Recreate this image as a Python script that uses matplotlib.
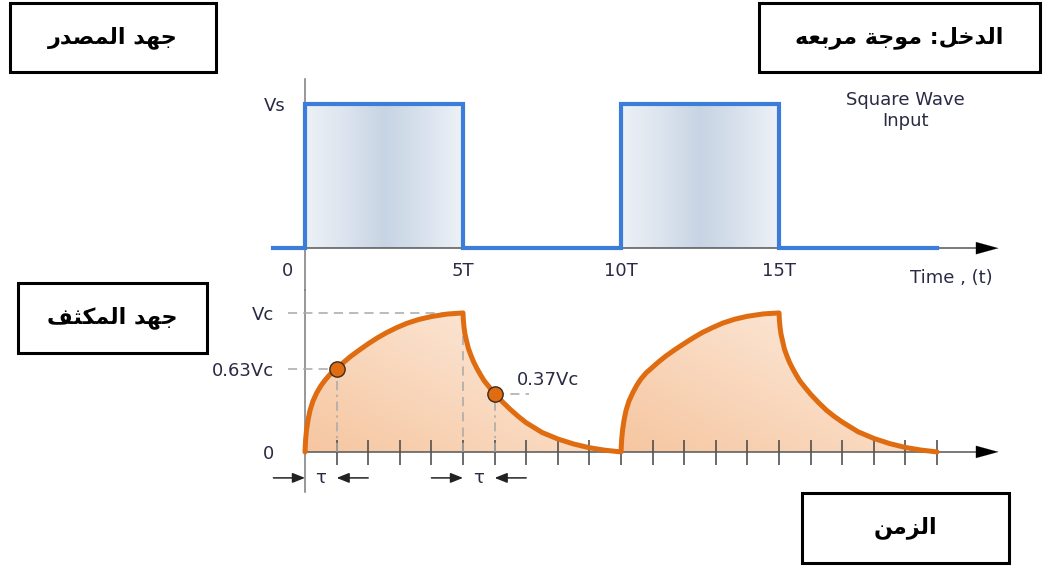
import numpy as np
import matplotlib
matplotlib.use("Agg")
import matplotlib.pyplot as plt
from matplotlib.patches import Rectangle
from matplotlib.colors import LinearSegmentedColormap, to_rgb

W, H = 1043, 567

# square wave input: time in units of T, level as fraction of Vs
sq_t = [-1, 0, 0, 5, 5, 10, 10, 15, 15, 20]
sq_v = [0, 0, 1, 1, 0, 0, 1, 1, 0, 0]
top_tick_pos = [0, 5, 10, 15]
top_tick_lbl = ["0", "5T", "10T", "15T"]

# capacitor voltage (fraction of Vc)
vc_t = [0, 0.02, 0.05, 0.1, 0.16, 0.25, 0.37, 0.5, 0.63, 0.8, 1.0, 1.2, 1.42, 1.7, 2.0, 2.3,
        2.58, 2.9, 3.22, 3.6, 4.0, 4.5, 5.0,
        5.01, 5.03, 5.06, 5.11, 5.17, 5.25, 5.33, 5.43, 5.54, 5.66, 5.8, 6.0, 6.25, 6.5, 6.75,
        7.0, 7.5, 8.0, 8.5, 9.0, 9.5, 10.0,
        10.02, 10.05, 10.1, 10.16, 10.25, 10.37, 10.5, 10.63, 10.8, 11.0, 11.2, 11.42, 11.7, 12.0,
        12.3, 12.58, 12.9, 13.22, 13.6, 14.0, 14.5, 15.0,
        15.01, 15.03, 15.06, 15.11, 15.17, 15.25, 15.33, 15.43, 15.54, 15.66, 15.8, 16.0, 16.25,
        16.5, 16.75, 17.0, 17.5, 18.0, 18.5, 19.0, 19.5, 20.0]
vc_v = [0, 0.09, 0.16, 0.235, 0.30, 0.365, 0.425, 0.475, 0.515, 0.56, 0.60, 0.64, 0.683, 0.73,
        0.778, 0.822, 0.858, 0.894, 0.925, 0.953, 0.974, 0.992, 1.0,
        0.95, 0.90, 0.85, 0.80, 0.745, 0.695, 0.65, 0.605, 0.56, 0.515, 0.475, 0.42, 0.36, 0.305,
        0.255, 0.21, 0.14, 0.093, 0.057, 0.03, 0.012, 0.0,
        0.09, 0.16, 0.235, 0.30, 0.365, 0.425, 0.48, 0.525, 0.57, 0.61, 0.65, 0.69, 0.735, 0.78,
        0.823, 0.86, 0.895, 0.927, 0.955, 0.976, 0.993, 1.0,
        0.95, 0.90, 0.85, 0.80, 0.74, 0.69, 0.645, 0.60, 0.555, 0.51, 0.47, 0.415, 0.355, 0.30,
        0.255, 0.215, 0.145, 0.097, 0.06, 0.032, 0.013, 0.0]
bot_tick_pos = list(range(1, 21))
vc_ytick_pos = [0, 0.60, 1.0]
vc_ytick_lbl = ["0", "0.63Vc", "Vc"]

mark_t = [1, 6]
mark_v = [0.60, 0.42]

# boxed Arabic captions: (text, box left, top, right, bottom in px)
captions = ["جهد المصدر", "الدخل: موجة مربعه", "جهد المكثف", "الزمن"]
caption_boxes = [(10, 3, 216, 72), (759, 3, 1040, 72), (18, 283, 207, 353), (802, 493, 1009, 563)]

BLUE = "#3b7dd8"
ORANGE = "#df6c10"
TXT = "#2a2a45"
DASH = "#a8a8a8"

# matplotlib does no Arabic shaping: map letters to presentation forms, reverse for RTL
AR_FORMS = {
    "ا": (0xFE8D, False), "ب": (0xFE8F, True), "ة": (0xFE93, False), "ث": (0xFE99, True),
    "ج": (0xFE9D, True), "خ": (0xFEA5, True), "د": (0xFEA9, False), "ر": (0xFEAD, False),
    "ز": (0xFEAF, False), "ص": (0xFEB9, True), "ع": (0xFEC9, True), "ف": (0xFED1, True),
    "ك": (0xFED9, True), "ل": (0xFEDD, True), "م": (0xFEE1, True), "ن": (0xFEE5, True),
    "ه": (0xFEE9, True), "و": (0xFEED, False),
}


def shape_ar(s):
    out = []
    for i, ch in enumerate(s):
        if ch not in AR_FORMS:
            out.append(ch)
            continue
        base, dual = AR_FORMS[ch]
        prev = s[i - 1] if i > 0 else ""
        nxt = s[i + 1] if i + 1 < len(s) else ""
        jp = prev in AR_FORMS and AR_FORMS[prev][1]
        jn = dual and nxt in AR_FORMS
        form = 3 if (jp and jn) else 1 if jp else 2 if jn else 0
        out.append(chr(base + form))
    return "".join(reversed(out))


def fx(x):
    return x / W


def fy(y):
    return 1 - y / H


plt.rcParams["font.family"] = ["DejaVu Sans"]
fig = plt.figure(figsize=(W / 100, H / 100), dpi=100)

# axes placed so the drawing lands where it sits in the picture
xlim = (-1.424, 22.15)
ax_top = fig.add_axes([fx(260), fy(290), fx(1005) - fx(260), (290 - 75) / H])
ax_bot = fig.add_axes([fx(260), fy(495), fx(1005) - fx(260), (495 - 290) / H])

for ax in (ax_top, ax_bot):
    ax.patch.set_alpha(0)
    for s in ("top", "right"):
        ax.spines[s].set_visible(False)
    ax.spines["left"].set_position(("data", 0))
    ax.spines["left"].set_color("#7a7a7a")
    ax.spines["left"].set_linewidth(1.1)
    ax.spines["bottom"].set_position(("data", 0))
    ax.spines["bottom"].set_color("#555555")
    ax.spines["bottom"].set_linewidth(1.1)
ax_top.spines["left"].set_bounds(-0.29, 1.17)
ax_bot.spines["left"].set_bounds(-0.29, 1.165)
ax_top.spines["bottom"].set_bounds(-1.0, 21.5)
ax_bot.spines["bottom"].set_bounds(0, 21.5)

# ---- top: square wave ----
ax_top.plot(sq_t, sq_v, color=BLUE, lw=3.0, solid_joinstyle="miter", zorder=4)
pulse_cmap = LinearSegmentedColormap.from_list(
    "pulse", ["#edf1f7", "#dce4ee", "#c7d4e3", "#d9e2ed", "#eef2f8"])
grad = np.linspace(0, 1, 256)[None, :]
for i in range(1, len(sq_t)):
    if sq_v[i - 1] == 0 and sq_v[i] == 1:
        start = sq_t[i]
        end = next(sq_t[j] for j in range(i + 1, len(sq_t)) if sq_v[j] == 0)
        ax_top.imshow(grad, cmap=pulse_cmap, extent=(start, end, 0, 1),
                      aspect="auto", origin="lower", zorder=1)
ax_top.set_xlim(*xlim)
ax_top.set_ylim(-0.29, 1.20)
ax_top.set_xticks([])
ax_top.set_yticks([1])
ax_top.set_yticklabels(["Vs"], fontsize=13, color=TXT)
ax_top.tick_params(axis="y", length=0, pad=14)
for pos, lbl in zip(top_tick_pos, top_tick_lbl):
    ax_top.text(pos - (0.55 if pos == 0 else 0), -0.155, lbl, ha="center", va="center",
                fontsize=13, color=TXT)
ax_top.text(20.44, -0.205, "Time , (t)", ha="center", va="center", fontsize=13, color=TXT)
ax_top.text(19.0, 0.955, "Square Wave\nInput", ha="center", va="center", fontsize=13,
            color=TXT, linespacing=1.25)
ax_top.annotate("", xy=(22.03, 0), xytext=(21.2, 0),
                arrowprops=dict(arrowstyle="-|>,head_length=0.8,head_width=0.22",
                                mutation_scale=20, color="black", lw=0.1))

# ---- bottom: capacitor voltage ----
poly = ax_bot.fill_between(vc_t, vc_v, 0, color="none", lw=0)
gx = np.linspace(0, 20, 500)
gy = np.linspace(0, 1, 150)
GX, GY = np.meshgrid(gx, gy)
f = np.clip(0.55 * (GX % 10) / 10 + 0.45 * GY, 0, 1)[..., None]
c0 = np.array(to_rgb("#f6c6a0"))
c1 = np.array(to_rgb("#fdefe4"))
img = c0 * (1 - f) + c1 * f
im = ax_bot.imshow(img, extent=(0, 20, 0, 1), origin="lower", aspect="auto", zorder=1)
im.set_clip_path(poly.get_paths()[0], transform=ax_bot.transData)
ax_bot.set_xlim(*xlim)
ax_bot.set_ylim(-0.31, 1.165)

ax_bot.plot(vc_t, vc_v, color=ORANGE, lw=3.6, solid_capstyle="round",
            solid_joinstyle="round", zorder=5)
ax_bot.plot(mark_t, mark_v, "o", ms=11, mfc=ORANGE, mec="#3a2a20", mew=1.0, zorder=6)

dash = dict(color=DASH, lw=1.1, dashes=(6, 4), zorder=3)
ax_bot.plot([-0.55, 5], [1, 1], **dash)
ax_bot.plot([-0.55, mark_t[0]], [mark_v[0], mark_v[0]], **dash)
ax_bot.plot([mark_t[0], mark_t[0]], [0, mark_v[0]], color=DASH, lw=1.1,
            dashes=(6, 3, 1.5, 3), zorder=3)
ax_bot.plot([5, 5], [0, 1], **dash)
ax_bot.plot([mark_t[1], mark_t[1]], [0, mark_v[1]], color=DASH, lw=1.1,
            dashes=(6, 3, 1.5, 3), zorder=3)
ax_bot.plot([mark_t[1], 7.1], [mark_v[1], mark_v[1]], **dash)
ax_bot.text(6.72, 0.515, "0.37Vc", ha="left", va="center", fontsize=13, color=TXT)

ax_bot.set_xticks(bot_tick_pos)
ax_bot.set_xticklabels([])
ax_bot.tick_params(axis="x", direction="inout", length=18, width=1.1, color="#444444")
ax_bot.set_yticks(vc_ytick_pos)
ax_bot.set_yticklabels(vc_ytick_lbl, fontsize=13, color=TXT)
ax_bot.tick_params(axis="y", length=0, pad=22)
ax_bot.annotate("", xy=(22.03, 0), xytext=(21.2, 0),
                arrowprops=dict(arrowstyle="-|>,head_length=0.8,head_width=0.22",
                                mutation_scale=20, color="black", lw=0.1))

# tau markers below the axis
tau_y = -0.187
small = dict(arrowstyle="-|>,head_length=0.75,head_width=0.3", mutation_scale=10,
             color="#222222", lw=1.1, shrinkA=0, shrinkB=0)
for t0 in (0, 5):
    ax_bot.annotate("", xy=(t0, tau_y), xytext=(t0 - 1, tau_y), arrowprops=small)
    ax_bot.annotate("", xy=(t0 + 1, tau_y), xytext=(t0 + 2, tau_y), arrowprops=small)
    ax_bot.text(t0 + 0.5, tau_y, "τ", ha="center", va="center", fontsize=13, color=TXT)

# ---- boxed Arabic captions ----
for text, (x0, y0, x1, y1) in zip(captions, caption_boxes):
    fig.patches.append(Rectangle((fx(x0), fy(y1)), fx(x1) - fx(x0), fy(y0) - fy(y1),
                                 transform=fig.transFigure, fill=False,
                                 edgecolor="black", lw=2.2))
    fig.text((fx(x0) + fx(x1)) / 2, (fy(y0) + fy(y1)) / 2, shape_ar(text),
             ha="center", va="center", fontsize=16, fontweight="bold", color="black")

fig.savefig("out.png", dpi=100, facecolor="white")
